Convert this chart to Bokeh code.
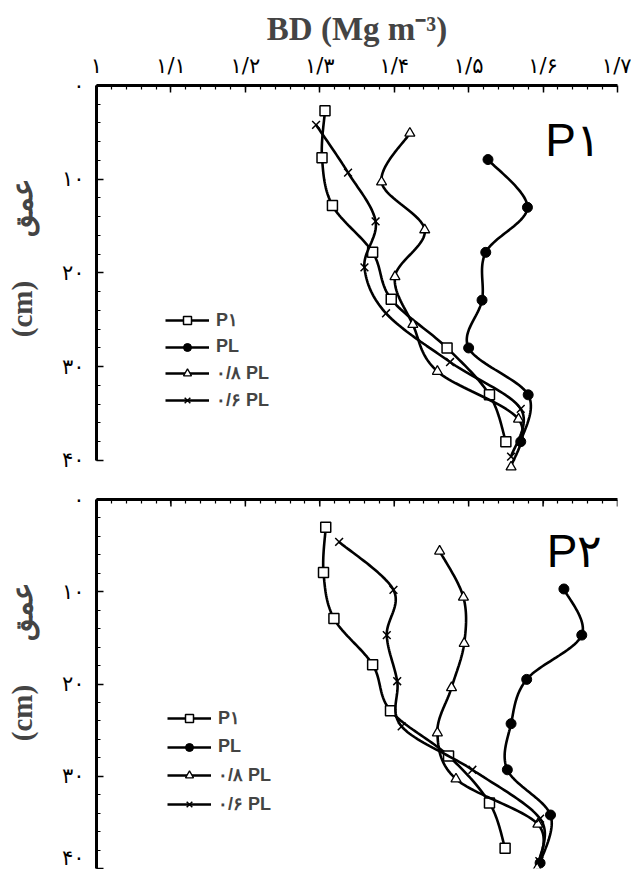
import numpy as np
from bokeh.plotting import figure
from bokeh.models import Range1d, FixedTicker, Legend, LegendItem, Label
from bokeh.layouts import column
from bokeh.embed import file_html
from bokeh.resources import INLINE

# ---------------- data ----------------
x_ticks = [1.0, 1.1, 1.2, 1.3, 1.4, 1.5, 1.6, 1.7]
x_tick_labels = ["۱", "۱/۱", "۱/۲", "۱/۳", "۱/۴", "۱/۵", "۱/۶", "۱/۷"]
x_minor = [1.0 + 0.02 * i for i in range(36)]
y_ticks = [0, 10, 20, 30, 40]
y_tick_labels = ["۰", "۱۰", "۲۰", "۳۰", "۴۰"]
y_minor = [2 * i for i in range(21)]
series_labels = ["P۱", "PL", "۰/۸ PL", "۰/۶ PL"]
panel_labels = ["P۱", "P۲"]
y_title_unit = "(cm)"
y_title_word = "عمق"
x_title = "BD (Mg m⁻³)"

# Panel P1
p1_pi_depth = [2.7, 7.7, 12.8, 17.8, 22.8, 28.0, 33.0, 38.0]
p1_pi_bd = [1.307, 1.303, 1.317, 1.371, 1.396, 1.471, 1.528, 1.550]
p1_pl_depth = [7.9, 13.0, 17.8, 22.9, 28.0, 33.0, 38.0]
p1_pl_bd = [1.526, 1.579, 1.523, 1.518, 1.500, 1.580, 1.570]
p1_pl08_depth = [5.1, 10.3, 15.4, 20.4, 25.5, 30.5, 35.6, 40.7]
p1_pl08_bd = [1.421, 1.383, 1.441, 1.401, 1.425, 1.458, 1.567, 1.557]
p1_pl06_depth = [4.2, 9.3, 14.5, 19.4, 24.3, 29.5, 34.5, 39.6]
p1_pl06_bd = [1.295, 1.338, 1.375, 1.360, 1.389, 1.475, 1.570, 1.557]

# Panel P2
p2_pi_depth = [3.0, 7.9, 12.9, 17.9, 22.9, 27.8, 32.9, 37.8]
p2_pi_bd = [1.308, 1.305, 1.319, 1.371, 1.395, 1.473, 1.528, 1.549]
p2_pl_depth = [9.7, 14.7, 19.5, 24.3, 29.3, 34.2, 39.4]
p2_pl_bd = [1.628, 1.652, 1.578, 1.557, 1.552, 1.610, 1.596]
p2_pl08_depth = [5.6, 10.6, 15.6, 20.4, 25.3, 30.3, 35.2, 40.0]
p2_pl08_bd = [1.461, 1.493, 1.494, 1.477, 1.458, 1.483, 1.593, 1.592]
p2_pl06_depth = [4.6, 9.8, 14.7, 19.7, 24.6, 29.3, 34.6, 39.2]
p2_pl06_bd = [1.326, 1.399, 1.390, 1.404, 1.410, 1.505, 1.596, 1.595]


def smooth(xs, ys, n=24):
    pts = np.column_stack([xs, ys]).astype(float)
    P = np.vstack([pts[0], pts, pts[-1]])
    out = []
    t = np.linspace(0, 1, n, endpoint=False)[:, None]
    for i in range(1, len(P) - 2):
        p0, p1, p2, p3 = P[i - 1], P[i], P[i + 1], P[i + 2]
        seg = 0.5 * ((2 * p1) + (-p0 + p2) * t + (2 * p0 - 5 * p1 + 4 * p2 - p3) * t ** 2
                     + (-p0 + 3 * p1 - 3 * p2 + p3) * t ** 3)
        out.append(seg)
    out.append(P[-2][None, :])
    arr = np.vstack(out)
    return arr[:, 0], arr[:, 1]


TICK_FONT = "DejaVu Sans"
NBSP = "\u00a0"
Y_LABEL = NBSP * 6 + y_title_unit + NBSP * 6 + y_title_word


def make_panel(series, label_text, top, show_xlabels, height, border_left, border_right,
               y_end, legend_loc, legend_spacing, title=None):
    p = figure(width=631, height=height, output_backend="svg", toolbar_location=None,
               x_axis_location="above", y_axis_location="left",
               x_range=Range1d(1.0, 1.7), y_range=Range1d(y_end, 0),
               min_border_left=border_left, min_border_right=border_right,
               min_border_top=top, min_border_bottom=1)
    p.outline_line_color = None
    p.xgrid.visible = False
    p.ygrid.visible = False
    p.background_fill_color = "white"
    p.border_fill_color = "white"

    xa = p.xaxis[0]
    xa.bounds = (1.0, 1.7)
    xa.axis_line_width = 3
    xa.major_tick_in = 7
    xa.major_tick_out = 0
    xa.minor_tick_in = 4
    xa.minor_tick_out = 0
    xa.major_tick_line_width = 1.5
    xa.minor_tick_line_width = 1.2
    if show_xlabels:
        xa.ticker = FixedTicker(ticks=x_ticks, minor_ticks=x_minor)
        xa.major_label_overrides = {v: s for v, s in zip(x_ticks, x_tick_labels)}
        xa.major_label_text_font = TICK_FONT
        xa.major_label_text_font_size = "21px"
        xa.major_label_standoff = 8
        xa.major_label_text_color = "black"
    else:
        # unlabeled top axis: minor ticks from the axis, major ticks as short marks
        xa.ticker = FixedTicker(ticks=[], minor_ticks=x_minor)
        xa.major_label_standoff = 0
        tick_len = 7.0 / ((height - top - 1) / y_end)
        p.segment(x0=x_ticks, y0=[0] * len(x_ticks), x1=x_ticks,
                  y1=[tick_len] * len(x_ticks), line_color="black", line_width=1.5)

    ya = p.yaxis[0]
    ya.ticker = FixedTicker(ticks=y_ticks, minor_ticks=y_minor)
    ya.bounds = (0, 40)
    ya.axis_line_width = 3
    ya.major_tick_in = 7
    ya.major_tick_out = 0
    ya.minor_tick_in = 4
    ya.minor_tick_out = 0
    ya.major_tick_line_width = 1.5
    ya.minor_tick_line_width = 1.2
    ya.major_label_overrides = {v: s for v, s in zip(y_ticks, y_tick_labels)}
    ya.major_label_text_font = TICK_FONT
    ya.major_label_text_font_size = "21px"
    ya.major_label_standoff = 12
    ya.major_label_text_color = "black"
    ya.axis_label = Y_LABEL
    ya.axis_label_text_font = "Liberation Serif"
    ya.axis_label_text_font_style = "bold"
    ya.axis_label_text_font_size = "29px"
    ya.axis_label_standoff = 21

    if title is not None:
        p.title.text = title
        p.title.align = "center"
        p.title.text_font = "Liberation Serif"
        p.title.text_font_style = "bold"
        p.title.text_font_size = "33px"
        p.title.standoff = 8

    markers = [
        dict(marker="square", size=10, fill_color="white", line_color="black", line_width=1.5),
        dict(marker="circle", size=10, fill_color="black", line_color="black", line_width=1.0),
        dict(marker="triangle", size=10, fill_color="white", line_color="black", line_width=1.3),
        dict(marker="x", size=11, fill_color=None, line_color="black", line_width=1.5),
    ]
    items = []
    for (bd, dep), mk, lab in zip(series, markers, series_labels):
        sx, sy = smooth(bd, dep)
        lr = p.line(sx, sy, line_color="black", line_width=2.6)
        sr = p.scatter(bd, dep, **mk)
        items.append(LegendItem(label=lab, renderers=[lr, sr]))

    legend = Legend(items=items, location=legend_loc, glyph_width=44, glyph_height=20,
                    label_height=20, spacing=legend_spacing, padding=0, margin=0,
                    label_standoff=7, border_line_color=None, background_fill_alpha=0,
                    label_text_font="Liberation Sans", label_text_font_style="bold",
                    label_text_font_size="18px")
    p.add_layout(legend)

    lbl = Label(x=label_text[0], y=label_text[1], text=label_text[2],
                text_font="Liberation Sans", text_font_size="46px",
                text_baseline="alphabetic", text_color="black")
    p.add_layout(lbl)
    return p


series1 = [(p1_pi_bd, p1_pi_depth), (p1_pl_bd, p1_pl_depth),
           (p1_pl08_bd, p1_pl08_depth), (p1_pl06_bd, p1_pl06_depth)]
series2 = [(p2_pi_bd, p2_pi_depth), (p2_pl_bd, p2_pl_depth),
           (p2_pl08_bd, p2_pl08_depth), (p2_pl06_bd, p2_pl06_depth)]

p1 = make_panel(series1, (1.603, 5.8, panel_labels[0]), top=85, show_xlabels=True,
                height=475, border_left=96, border_right=10, y_end=41.5,
                legend_loc=(69, 63), legend_spacing=5, title=x_title)
p2 = make_panel(series2, (1.605, 5.55, panel_labels[1]), top=24, show_xlabels=False,
                height=394, border_left=89, border_right=14, y_end=40.0,
                legend_loc=(71, 53), legend_spacing=7)

layout = column(p1, p2, spacing=0)
open("out.html", "w").write(file_html(layout, INLINE))
